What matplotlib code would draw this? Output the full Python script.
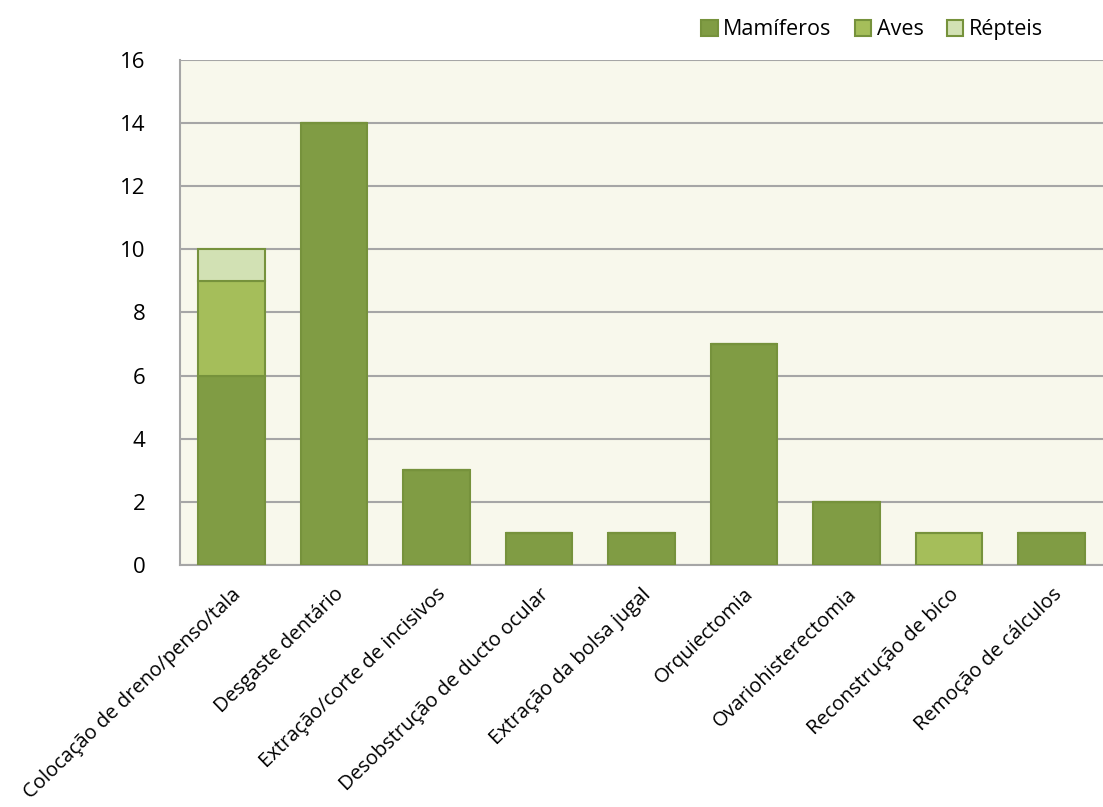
import matplotlib.pyplot as plt
import numpy as np

plt.rcParams['font.family'] = ['Open Sans', 'DejaVu Sans']

categories = ["Colocação de dreno/penso/tala", "Desgaste dentário",
              "Extração/corte de incisivos", "Desobstrução de ducto ocular",
              "Extração da bolsa jugal", "Orquiectomia", "Ovariohisterectomia",
              "Reconstrução de bico", "Remoção de cálculos"]
mamiferos = [6, 14, 3, 1, 1, 7, 2, 0, 1]
aves = [3, 0, 0, 0, 0, 0, 0, 1, 0]
repteis = [1, 0, 0, 0, 0, 0, 0, 0, 0]

fig = plt.figure(figsize=(11.03, 8.07), dpi=100)
ax = fig.add_axes([0.1632, 0.2999, 0.8368, 0.6258])
ax.set_facecolor("#F8F8EC")

x = np.arange(len(categories))
w = 0.65
edge = "#76923C"
m = np.array(mamiferos)
a = np.array(aves)
r = np.array(repteis)
ax.bar(x, m, w, color="#809C44", edgecolor=edge, linewidth=1.5, label="Mamíferos", zorder=3)
ax.bar(x, a, w, bottom=m, color="#A5BE5A", edgecolor=edge, linewidth=1.5, label="Aves", zorder=3)
ax.bar(x, r, w, bottom=m + a, color="#D2E1B4", edgecolor=edge, linewidth=1.5, label="Répteis", zorder=3)

ax.set_xlim(-0.5, len(categories) - 0.5)
ax.set_ylim(0, 16)
ax.set_yticks(range(0, 17, 2))
ax.yaxis.grid(True, color="#A6A6A6", linewidth=1.5, zorder=0)
ax.set_axisbelow(True)
for s in ["top", "right"]:
    ax.spines[s].set_visible(False)
ax.spines["left"].set_color("#A6A6A6")
ax.spines["bottom"].set_color("#A6A6A6")
ax.spines["left"].set_linewidth(1.5)
ax.spines["bottom"].set_linewidth(1.5)
ax.tick_params(axis="y", length=0, labelsize=16, pad=25)
ax.tick_params(axis="x", length=0, labelsize=14.5, pad=14)
ax.set_xticks(x)
ax.set_xticklabels(categories, rotation=44, ha="right", rotation_mode="anchor")

leg = fig.legend(loc="upper right", bbox_to_anchor=(0.963, 1.0), ncol=3, frameon=False,
                 fontsize=15.5, handlelength=0.75, handleheight=0.75, handletextpad=0.25,
                 columnspacing=1.1)

fig.savefig("out.png", dpi=100)
